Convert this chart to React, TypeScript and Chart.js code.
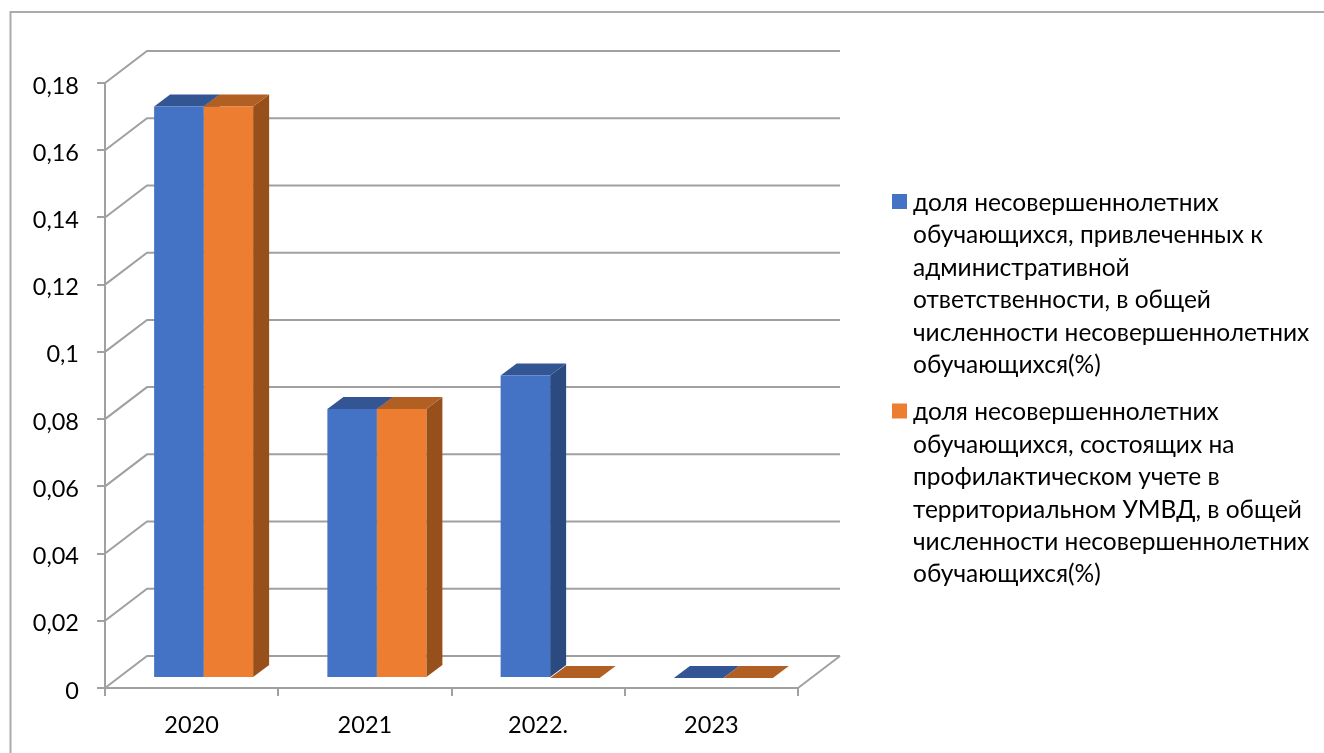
import React, { useEffect, useRef } from "react";
import { Chart, registerables } from "chart.js";

Chart.register(...registerables);

const categories = ["2020", "2021", "2022.", "2023"];
const seriesAdmin = [0.17, 0.08, 0.09, 0];
const seriesPrevention = [0.17, 0.08, 0, 0];
const legendAdmin = [
  "доля несовершеннолетних",
  "обучающихся, привлеченных к",
  "административной",
  "ответственности, в общей",
  "численности несовершеннолетних",
  "обучающихся(%)",
];
const legendPrevention = [
  "доля несовершеннолетних",
  "обучающихся, состоящих на",
  "профилактическом учете в",
  "территориальном УМВД, в общей",
  "численности несовершеннолетних",
  "обучающихся(%)",
];

const FONT = "Lato, Carlito, 'Open Sans', sans-serif";
const TICK_SIZE = 23.5;
const LEGEND_SIZE = 24.5;
const GRID = "#a0a0a0";
const WALL_DX = 42, WALL_DY = 32;
const BAR_SHIFT_X = 12, BAR_SHIFT_Y = 10;
const BAR_DX = 16, BAR_DY = 12;
const shades = [
  { face: "#4472c4", top: "#335593", side: "#2a4a80" },
  { face: "#ed7d31", top: "#b25f24", side: "#974f1c" },
];

const scene = {
  id: "scene3d",
  beforeDatasetsDraw(chart: any) {
    const { ctx, chartArea, scales } = chart;
    ctx.save();
    ctx.strokeStyle = GRID;
    ctx.lineWidth = 2;
    const { left, right } = chartArea;
    scales.y.ticks.forEach((t: any) => {
      const y = scales.y.getPixelForValue(t.value);
      ctx.beginPath();
      ctx.moveTo(left, y);
      ctx.lineTo(left + WALL_DX, y - WALL_DY);
      ctx.lineTo(right + WALL_DX, y - WALL_DY);
      ctx.stroke();
    });
    const y0 = scales.y.getPixelForValue(0);
    ctx.beginPath();
    ctx.moveTo(right, y0);
    ctx.lineTo(right + WALL_DX, y0 - WALL_DY);
    ctx.stroke();
    ctx.restore();
    ctx.save();
    ctx.translate(BAR_SHIFT_X, -BAR_SHIFT_Y);
    // Sides and tops go first, blue then orange; the library paints the front faces over them.
    shades.forEach((c, i) => {
      chart.getDatasetMeta(i).data.forEach((bar: any) => {
        const { x, y, base, width } = bar.getProps(["x", "y", "base", "width"]);
        const l = x - width / 2, r = x + width / 2;
        ctx.fillStyle = c.side;
        ctx.beginPath();
        ctx.moveTo(r, y);
        ctx.lineTo(r + BAR_DX, y - BAR_DY);
        ctx.lineTo(r + BAR_DX, base - BAR_DY);
        ctx.lineTo(r, base);
        ctx.closePath();
        ctx.fill();
        ctx.fillStyle = c.top;
        ctx.beginPath();
        ctx.moveTo(l, y);
        ctx.lineTo(l + BAR_DX, y - BAR_DY);
        ctx.lineTo(r + BAR_DX, y - BAR_DY);
        ctx.lineTo(r, y);
        ctx.closePath();
        ctx.fill();
      });
    });
  },
  afterDatasetsDraw(chart: any) {
    chart.ctx.restore();
  },
  afterDraw(chart: any) {
    const { ctx } = chart;
    ctx.save();
    ctx.strokeStyle = "#ababab";
    ctx.lineWidth = 2;
    ctx.beginPath();
    ctx.moveTo(10.5, 760);
    ctx.lineTo(10.5, 12);
    ctx.lineTo(1330, 12);
    ctx.stroke();
    ctx.font = `${LEGEND_SIZE}px ${FONT}`;
    ctx.textBaseline = "middle";
    const block = (lines: string[], y: number, color: string) => {
      ctx.fillStyle = color;
      ctx.fillRect(892, y - 9, 15, 15);
      ctx.fillStyle = "#000";
      lines.forEach((s, i) => ctx.fillText(s, 913, y + i * 32.4));
    };
    block(legendAdmin, 203, shades[0].face);
    block(legendPrevention, 412.5, shades[1].face);
    ctx.restore();
  },
};

export default function App() {
  const ref = useRef<HTMLCanvasElement>(null);
  useEffect(() => {
    document.body.style.margin = "0";
    const chart = new Chart(ref.current!, {
      type: "bar",
      data: {
        labels: categories,
        datasets: [
          { label: legendAdmin.join(" "), data: seriesAdmin, backgroundColor: shades[0].face },
          { label: legendPrevention.join(" "), data: seriesPrevention, backgroundColor: shades[1].face },
        ],
      },
      options: {
        animation: false,
        responsive: false,
        layout: { padding: { top: 83, right: 526, left: 0, bottom: 0 } },
        datasets: { bar: { categoryPercentage: 0.5714, barPercentage: 1 } },
        plugins: { legend: { display: false }, tooltip: { enabled: false } },
        scales: {
          x: {
            afterFit: (s: any) => { s.height = 65; },
            grid: { offset: true, drawOnChartArea: false, drawTicks: true, tickLength: 8, color: GRID, lineWidth: 2 },
            border: { color: GRID, width: 2 },
            ticks: { color: "#000", font: { family: FONT, size: TICK_SIZE }, padding: 15, maxRotation: 0 },
          },
          y: {
            min: 0,
            max: 0.18,
            afterFit: (s: any) => { s.width = 105; },
            grid: { drawOnChartArea: false, drawTicks: true, tickLength: 8, color: GRID, lineWidth: 2 },
            border: { color: GRID, width: 2 },
            ticks: {
              stepSize: 0.02,
              color: "#000",
              font: { family: FONT, size: TICK_SIZE },
              padding: 18,
              labelOffset: 3,
              callback: (v: any) => String(Math.round(Number(v) * 100) / 100).replace(".", ","),
            },
          },
        },
      },
      plugins: [scene],
    });
    return () => chart.destroy();
  }, []);
  return <canvas ref={ref} width={1324} height={753} style={{ display: "block" }} />;
}
